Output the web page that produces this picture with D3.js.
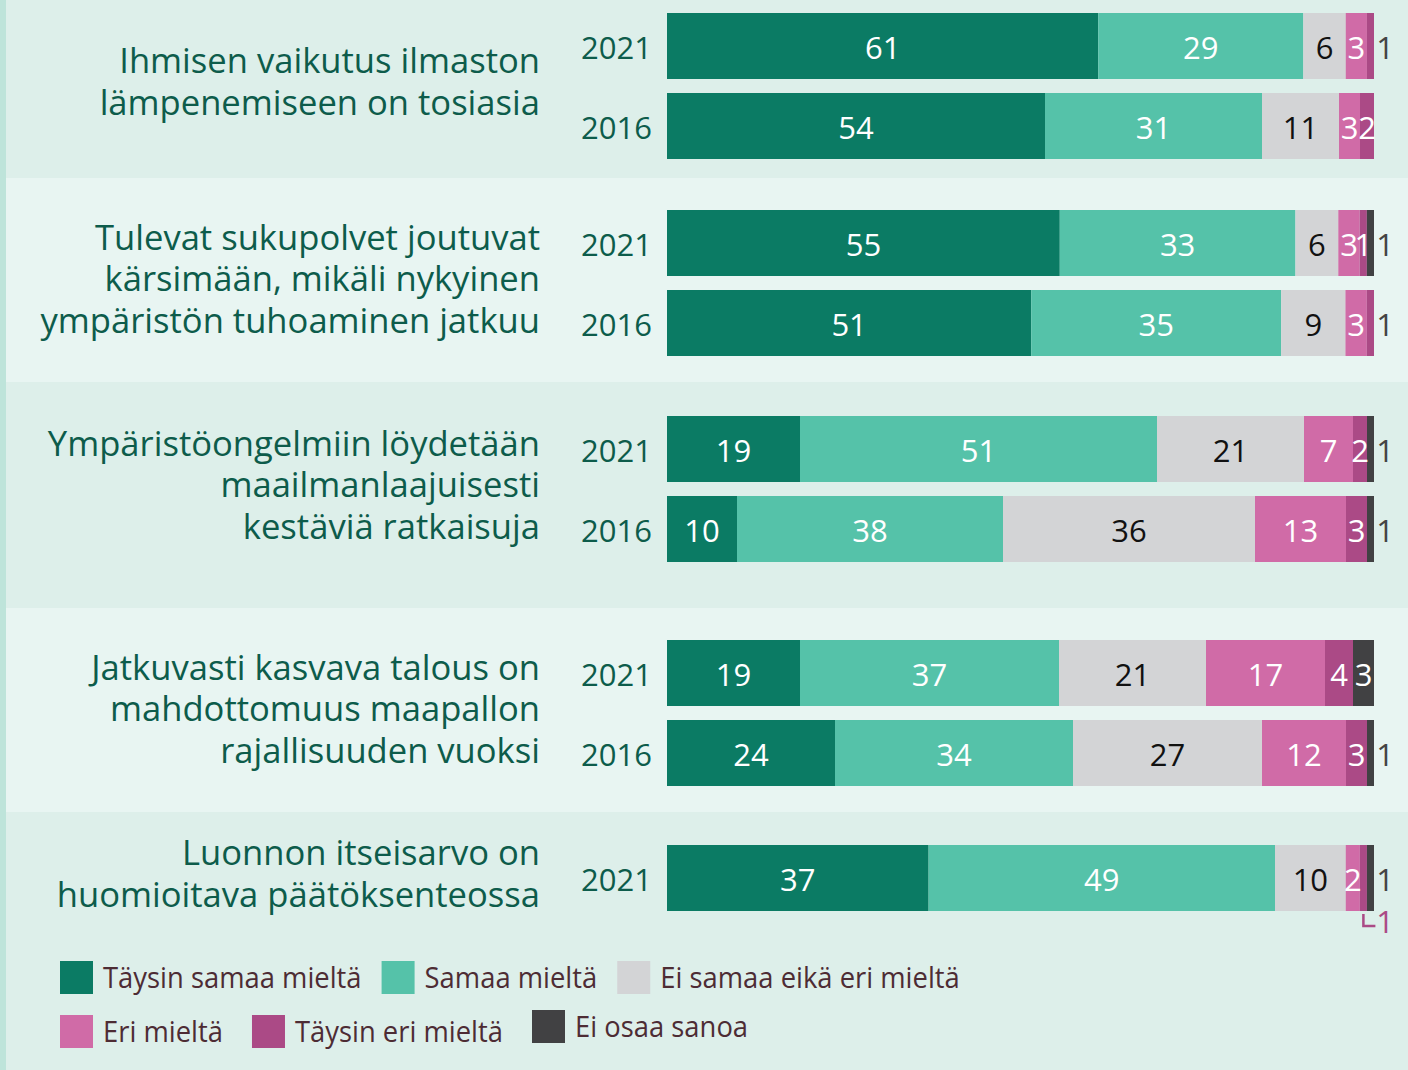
<!DOCTYPE html>
<html>
<head>
<meta charset="utf-8">
<script src="https://cdn.jsdelivr.net/npm/d3@7"></script>
<style type="text/css">
  body{
    margin: 0px;
    background: #ddefea;
  }
  svg text{
    font-family: 'Open Sans', 'Noto Sans', sans-serif;
  }
</style>
</head>
<body>

<svg id="chart" width="1408" height="1070"></svg>

<script>

// vastausvaihtoehdot (sarjat)
var series = ['Täysin samaa mieltä', 'Samaa mieltä', 'Ei samaa eikä eri mieltä',
              'Eri mieltä', 'Täysin eri mieltä', 'Ei osaa sanoa'];

var colors = ['#0b7b64', '#55c2a9', '#d3d4d6', '#d06ba7', '#ab4a86', '#414143'];
var labelColors = ['#fff', '#fff', '#111', '#fff', '#fff', '#fff'];

// väittämät, rivitettynä kuten alkuperäisessä
var questions = [
  ['Ihmisen vaikutus ilmaston', 'lämpenemiseen on tosiasia'],
  ['Tulevat sukupolvet joutuvat', 'kärsimään, mikäli nykyinen', 'ympäristön tuhoaminen jatkuu'],
  ['Ympäristöongelmiin löydetään', 'maailmanlaajuisesti', 'kestäviä ratkaisuja'],
  ['Jatkuvasti kasvava talous on', 'mahdottomuus maapallon', 'rajallisuuden vuoksi'],
  ['Luonnon itseisarvo on', 'huomioitava päätöksenteossa']
];

var years = ['2021', '2016'];

var values2021 = [
  [61, 29, 6, 3, 1, 0],
  [55, 33, 6, 3, 1, 1],
  [19, 51, 21, 7, 2, 1],
  [19, 37, 21, 17, 4, 3],
  [37, 49, 10, 2, 1, 1]
];

var values2016 = [
  [54, 31, 11, 3, 2, 0],
  [51, 35, 9, 3, 1, 0],
  [10, 38, 36, 13, 3, 1],
  [24, 34, 27, 12, 3, 1],
  null
];

// pienet arvot joiden selite on vedetty palkin alle
var callouts = [
  { question: 4, year: '2021', serie: 4 }
];

// ---- layout ----
var width = 1408, height = 1070;
var bandEdges = [0, 178, 382, 608, 812, 1070];
var bandColors = ['#ddefea', '#e8f5f2'];
var barTops = [13, 210, 416, 640, 845];
var barLeft = 667, barRight = 1374;
var barStep = 80, barHeight = 66;
var textRight = 540, lineHeight = 41.5;

var svg = d3.select('#chart');

svg.selectAll('.band')
  .data(bandEdges.slice(0, -1))
  .enter()
  .append('rect')
  .attr('class', 'band')
  .attr('x', 6)
  .attr('y', function(d) { return d; })
  .attr('width', width - 6)
  .attr('height', function(d, i) { return bandEdges[i + 1] - d; })
  .attr('fill', function(d, i) { return bandColors[i % 2]; });

svg.append('rect')
  .attr('x', 0).attr('y', 0)
  .attr('width', 6).attr('height', height)
  .attr('fill', '#bee4da');

function rowsFor(q) {
  var rows = [{ year: '2021', values: values2021[q] }];
  if (values2016[q]) rows.push({ year: '2016', values: values2016[q] });
  return rows;
}

var pad = (barStep - barHeight) / barStep;

questions.forEach(function(lines, q) {

  var rows = rowsFor(q);
  var top = barTops[q] - (barStep - barHeight) / 2;
  var y = d3.scaleBand()
    .domain(rows.map(function(r) { return r.year; }))
    .range([top, top + barStep * rows.length])
    .paddingInner(pad)
    .paddingOuter(pad / 2);

  var g = svg.append('g').attr('class', 'question');

  var center = top + barStep * rows.length / 2;

  g.append('text')
    .attr('text-anchor', 'end')
    .attr('fill', '#0d5c4b')
    .style('font-size', '34.6px')
    .selectAll('tspan')
    .data(lines)
    .enter()
    .append('tspan')
    .attr('x', textRight)
    .attr('y', function(d, i) { return center + 8 + (i - (lines.length - 1) / 2) * lineHeight; })
    .text(function(d) { return d; });

  rows.forEach(function(r) {

    var total = d3.sum(r.values);
    var x = d3.scaleLinear().domain([0, total]).range([barLeft, barRight]);

    var segs = [];
    var acc = 0;
    r.values.forEach(function(v, i) {
      segs.push({ serie: i, value: v, x0: acc, x1: acc + v });
      acc += v;
    });
    var nonzero = segs.filter(function(s) { return s.value > 0; });
    var last = nonzero[nonzero.length - 1];

    var yc = y(r.year) + y.bandwidth() / 2;

    g.append('text')
      .attr('x', barLeft - 15)
      .attr('y', yc + 13)
      .attr('text-anchor', 'end')
      .attr('fill', '#0d5c4b')
      .style('font-size', '31px')
      .text(r.year);

    g.selectAll('.seg' + r.year)
      .data(nonzero)
      .enter()
      .append('rect')
      .attr('x', function(d) { return x(d.x0); })
      .attr('y', y(r.year))
      .attr('width', function(d) { return x(d.x1) - x(d.x0); })
      .attr('height', y.bandwidth())
      .attr('fill', function(d) { return colors[d.serie]; });

    nonzero.forEach(function(s) {
      var isCallout = callouts.some(function(c) {
        return c.question === q && c.year === r.year && c.serie === s.serie;
      });
      if (isCallout) {
        var cx = (x(s.x0) + x(s.x1)) / 2;
        var by = y(r.year) + y.bandwidth();
        g.append('path')
          .attr('d', 'M' + cx + ',' + (by + 3) + 'V' + (by + 15) + 'H' + (cx + 12))
          .attr('fill', 'none')
          .attr('stroke', colors[4])
          .attr('stroke-width', 2.5);
        g.append('text')
          .attr('x', barRight + 11)
          .attr('y', by + 22)
          .attr('text-anchor', 'middle')
          .attr('fill', colors[4])
          .style('font-size', '31px')
          .text(s.value);
      } else if (s === last && s.value <= 1) {
        g.append('text')
          .attr('x', barRight + 11)
          .attr('y', yc + 13)
          .attr('text-anchor', 'middle')
          .attr('fill', '#444')
          .style('font-size', '31px')
          .text(s.value);
      } else {
        g.append('text')
          .attr('x', (x(s.x0) + x(s.x1)) / 2)
          .attr('y', yc + 13)
          .attr('text-anchor', 'middle')
          .attr('fill', labelColors[s.serie])
          .style('font-size', '31px')
          .text(s.value);
      }
    });
  });
});

// ---- legend ----
var legendRows = [[0, 1, 2], [3, 4, 5]];
var legendTop = [961, 1015];
var legendGap = [20, 29];
var legendShift = [0, 0, 0, 0, 0, -5];
var squareSize = 33;
var squeeze = 0.913;

legendRows.forEach(function(row, ri) {
  var lx = 60;
  row.forEach(function(si) {
    var ly = legendTop[ri] + legendShift[si];
    var item = svg.append('g').attr('transform', 'translate(' + lx + ',' + ly + ')');
    item.append('rect')
      .attr('width', squareSize)
      .attr('height', squareSize)
      .attr('fill', colors[si]);
    var t = item.append('text')
      .attr('transform', 'translate(43,' + (squareSize / 2 + 10.5) + ') scale(' + squeeze + ',1)')
      .attr('fill', '#4d2c34')
      .style('font-size', '30px')
      .text(series[si]);
    var w = t.node().getComputedTextLength() * squeeze;
    lx += 43 + w + legendGap[ri];
  });
});

</script>

</body>
</html>
